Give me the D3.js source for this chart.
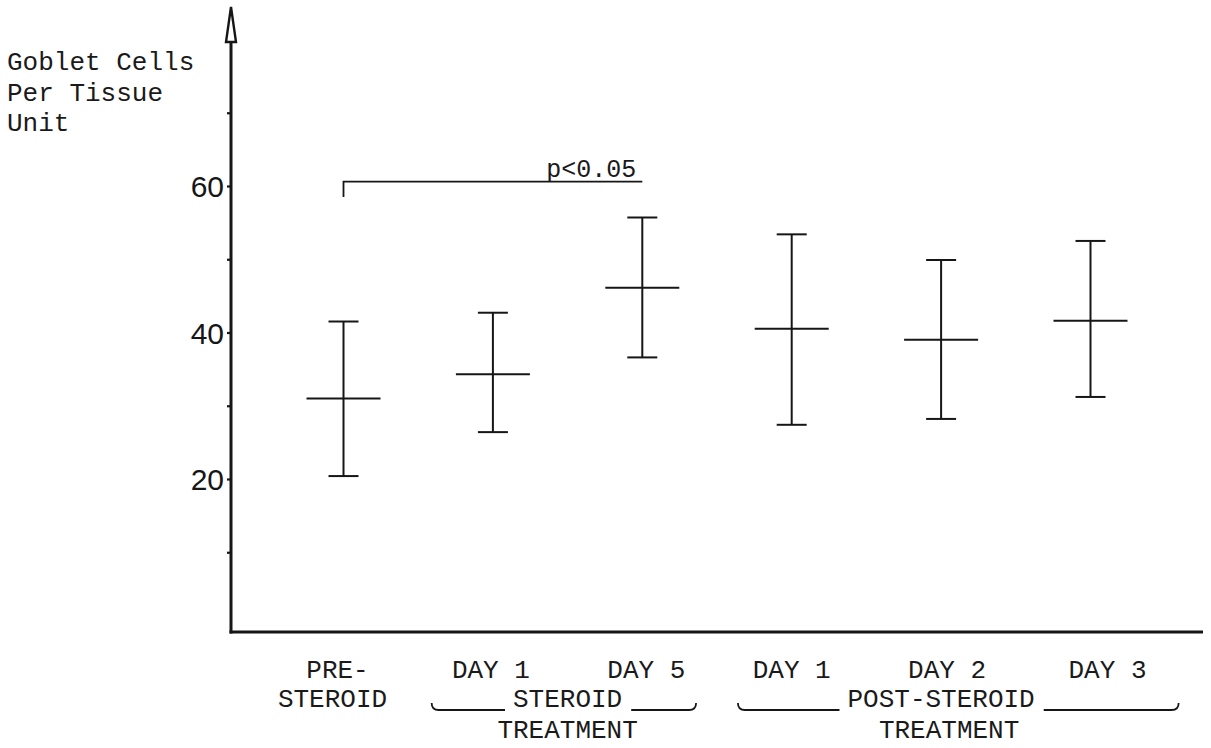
<!DOCTYPE html>
<html>
<head>
<meta charset="utf-8">
<script src="https://cdn.jsdelivr.net/npm/d3@7/dist/d3.min.js"></script>
<style>
  html, body { margin: 0; padding: 0; background: #fff; }
  svg { display: block; }
  .mono { font-family: "Liberation Mono", "DejaVu Sans Mono", monospace; fill: #1a1a1a; }
</style>
</head>
<body>
<svg id="chart" width="1211" height="748"></svg>
<script>
// Goblet cells per tissue unit: mean with upper/lower range per sampling time
const categories = ["PRE", "S1", "S5", "P1", "P2", "P3"];
const labelTop = ["PRE-", "DAY 1", "DAY 5", "DAY 1", "DAY 2", "DAY 3"];
const labelSecond = ["STEROID", "", "", "", "", ""];
const means = [31.0, 34.3, 46.1, 40.5, 39.0, 41.6];
const upper = [41.5, 42.7, 55.7, 53.4, 49.9, 52.5];
const lower = [20.4, 26.4, 36.6, 27.4, 28.2, 31.2];
const yTicks = [10, 20, 30, 40, 50, 60, 70];
const yTickLabels = [20, 40, 60];
const yTitle = ["Goblet Cells", "Per Tissue", "Unit"];
const groupNames = ["STEROID", "POST-STEROID"];
const groupSub = ["TREATMENT", "TREATMENT"];
const groupFirst = ["S1", "P1"];
const groupLast = ["S5", "P3"];
const sigFrom = "PRE", sigTo = "S5";
const sigLevel = 60.6, sigDrop = 58.5;
const sigText = "p<0.05";

(function draw() {
  const ink = "#161616";
  const svg = d3.select("#chart");

  const plotLeft = 231, plotRight = 1203, plotBottom = 632, plotTop = 42;

  const x = d3.scalePoint().domain(categories).range([plotLeft, plotRight]).padding(0.753);
  const y = d3.scaleLinear().domain([0, 60]).range([625.5, 186]);

  // y axis with small ticks on the left, labels on even decades
  const yAxis = d3.axisLeft(y)
    .tickValues(yTicks)
    .tickSize(4)
    .tickFormat(d => yTickLabels.includes(d) ? d : "");
  const gy = svg.append("g").attr("transform", `translate(${plotLeft},0)`).call(yAxis);
  gy.select(".domain").remove();
  gy.selectAll(".tick line").attr("stroke", ink).attr("stroke-width", 2.2);
  gy.selectAll(".tick text")
    .attr("x", -7)
    .attr("dy", "0.36em")
    .style("font-family", "'Liberation Sans Narrow', 'Liberation Sans', 'DejaVu Sans', sans-serif")
    .style("font-size", "30px")
    .attr("fill", ink);

  // axis lines
  svg.append("line").attr("x1", plotLeft).attr("x2", plotLeft).attr("y1", plotTop).attr("y2", plotBottom + 1.5)
    .attr("stroke", ink).attr("stroke-width", 3);
  svg.append("line").attr("x1", plotLeft - 1.5).attr("x2", plotRight).attr("y1", plotBottom).attr("y2", plotBottom)
    .attr("stroke", ink).attr("stroke-width", 3);
  // open arrowhead on the y axis
  svg.append("path")
    .attr("d", `M${plotLeft},7 L${plotLeft + 5},${plotTop} L${plotLeft - 5},${plotTop} Z`)
    .attr("fill", "#fff").attr("stroke", ink).attr("stroke-width", 2.4).attr("stroke-linejoin", "miter");

  // y axis title
  svg.append("g").selectAll("text").data(yTitle).join("text")
    .attr("class", "mono")
    .attr("x", 7)
    .attr("y", (d, i) => 70 + i * 30.5)
    .style("font-size", "26px")
    .text(d => d);

  // error bars
  const bars = svg.append("g").selectAll("g").data(categories).join("g")
    .attr("stroke", ink).attr("stroke-width", 2);
  bars.append("line")
    .attr("x1", d => x(d)).attr("x2", d => x(d))
    .attr("y1", (d, i) => y(upper[i])).attr("y2", (d, i) => y(lower[i]));
  bars.append("line")
    .attr("x1", d => x(d) - 15).attr("x2", d => x(d) + 15)
    .attr("y1", (d, i) => y(upper[i])).attr("y2", (d, i) => y(upper[i]));
  bars.append("line")
    .attr("x1", d => x(d) - 15).attr("x2", d => x(d) + 15)
    .attr("y1", (d, i) => y(lower[i])).attr("y2", (d, i) => y(lower[i]));
  bars.append("line")
    .attr("x1", d => x(d) - 37).attr("x2", d => x(d) + 37)
    .attr("y1", (d, i) => y(means[i])).attr("y2", (d, i) => y(means[i]));

  // significance bracket
  svg.append("path")
    .attr("d", `M${x(sigFrom)},${y(sigDrop)} L${x(sigFrom)},${y(sigLevel)} L${x(sigTo)},${y(sigLevel)}`)
    .attr("fill", "none").attr("stroke", ink).attr("stroke-width", 1.8);
  svg.append("text").attr("class", "mono")
    .attr("x", x(sigTo) - 6).attr("y", y(sigLevel) - 5)
    .attr("text-anchor", "end")
    .style("font-size", "25px")
    .text(sigText);

  // category labels under the axis (typed slightly off-centre in places)
  const nudge = [-6, -2, 4, 0, 6, 17];
  const labels = svg.append("g").style("font-size", "26px").attr("text-anchor", "middle");
  labels.selectAll("text.top").data(categories).join("text")
    .attr("class", "top mono")
    .attr("x", (d, i) => x(d) + nudge[i])
    .attr("y", 678)
    .text((d, i) => labelTop[i]);
  labels.selectAll("text.second").data(categories.filter((d, i) => labelSecond[i])).join("text")
    .attr("class", "second mono")
    .attr("x", d => x(d) - 11)
    .attr("y", 707)
    .text(d => labelSecond[categories.indexOf(d)]);

  // treatment group labels with hooked underline brackets
  const step = x.step();
  const padL = [0.41, 0.36], padR = [0.36, 0.59];
  groupNames.forEach((name, gi) => {
    const x0 = x(groupFirst[gi]) - padL[gi] * step;
    const x1 = x(groupLast[gi]) + padR[gi] * step;
    const cx = (x(groupFirst[gi]) + x(groupLast[gi])) / 2;
    const t = svg.append("text").attr("class", "mono")
      .attr("x", cx).attr("y", 707)
      .attr("text-anchor", "middle")
      .style("font-size", "26px")
      .text(name);
    const bb = t.node().getBBox();
    const ly = 710;
    svg.append("path")
      .attr("d", `M${x0},${ly - 7} Q${x0},${ly} ${x0 + 7},${ly} L${bb.x - 8},${ly}`)
      .attr("fill", "none").attr("stroke", ink).attr("stroke-width", 1.8);
    svg.append("path")
      .attr("d", `M${bb.x + bb.width + 9},${ly} L${x1 - 7},${ly} Q${x1},${ly} ${x1},${ly - 7}`)
      .attr("fill", "none").attr("stroke", ink).attr("stroke-width", 1.8);
    svg.append("text").attr("class", "mono")
      .attr("x", cx + (gi === 1 ? 8 : 0)).attr("y", 738)
      .attr("text-anchor", "middle")
      .style("font-size", "26px")
      .text(groupSub[gi]);
  });
})();
</script>
</body>
</html>
